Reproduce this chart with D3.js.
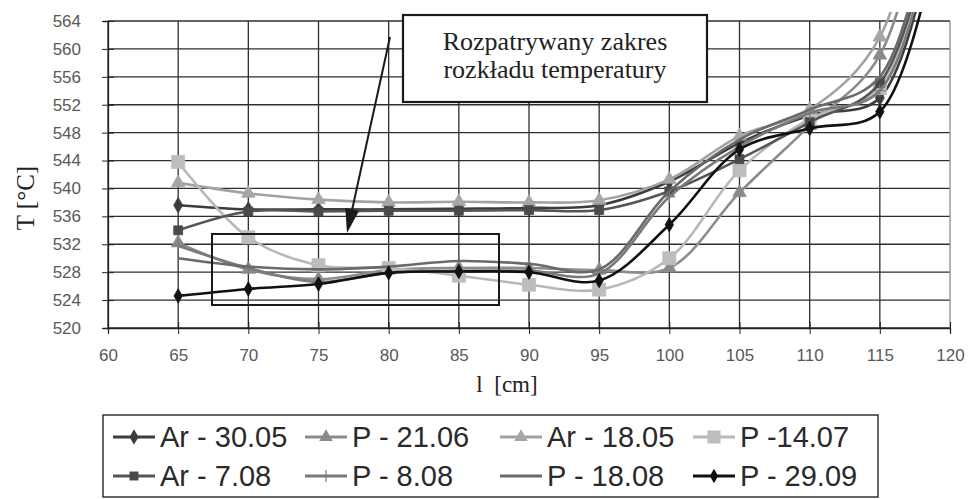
<!DOCTYPE html>
<html>
<head>
<meta charset="utf-8">
<script src="https://cdn.jsdelivr.net/npm/d3@7/dist/d3.min.js"></script>
<style>
  html, body { margin: 0; padding: 0; background: #ffffff; }
  svg { display: block; }
</style>
</head>
<body>
<svg id="chart" width="971" height="499"></svg>
<script>
// Measurement positions along the pipe [cm]
const lengths = [65, 70, 75, 80, 85, 90, 95, 100, 105, 110, 115, 120];

// Temperature readings [°C] for each measurement series
const ar3005 = [537.6, 537.0, 537.0, 537.0, 537.1, 537.2, 537.6, 541.0, 546.5, 550.5, 553.0, 590];
const p2106  = [532.2, 528.4, 527.0, 528.3, 528.6, 528.6, 528.3, 528.6, 539.4, 549.0, 559.1, 600];
const ar1805 = [540.8, 539.3, 538.4, 538.0, 538.1, 538.0, 538.3, 541.3, 547.5, 551.3, 561.7, 605];
const p1407  = [543.8, 533.0, 529.0, 528.6, 527.5, 526.2, 525.5, 530.0, 542.6, 550.0, 554.4, 590];
const ar0708 = [534.0, 536.7, 536.7, 536.8, 536.8, 536.9, 536.9, 539.6, 544.2, 549.5, 555.1, 590];
const p0808  = [531.8, 528.6, 526.6, 527.9, 528.2, 528.2, 527.8, 538.8, 546.0, 550.8, 554.0, 590];
const p1808  = [530.0, 528.8, 528.4, 528.8, 529.6, 529.2, 528.4, 539.6, 547.0, 551.3, 556.0, 595];
const p2909  = [524.6, 525.6, 526.3, 527.9, 528.1, 528.0, 526.8, 534.8, 545.6, 548.6, 551.0, 585];

const seriesNames = ["Ar - 30.05", "P - 21.06", "Ar - 18.05", "P -14.07",
                     "Ar - 7.08", "P - 8.08", "P - 18.08", "P - 29.09"];

// Axis ticks
const xTicks = [60, 65, 70, 75, 80, 85, 90, 95, 100, 105, 110, 115, 120];
const yTicks = [520, 524, 528, 532, 536, 540, 544, 548, 552, 556, 560, 564];

// Annotation text
const noteLines = ["Rozpatrywany zakres", "rozkładu temperatury"];

// Series styling (grey-scale print)
const styles = [
  { data: ar3005, line: "#3c3c3c", mark: "diamond",  fill: "#3c3c3c", size: 70 },
  { data: p2106,  line: "#8c8c8c", mark: "triangle", fill: "#8a8a8a", size: 80 },
  { data: ar1805, line: "#a2a2a2", mark: "triangle", fill: "#a6a6a6", size: 80 },
  { data: p1407,  line: "#b8b8b8", mark: "square",   fill: "#bdbdbd", size: 170 },
  { data: ar0708, line: "#555555", mark: "square",   fill: "#4a4a4a", size: 80 },
  { data: p0808,  line: "#7a7a7a", mark: "plus",     fill: "#7a7a7a", size: 80 },
  { data: p1808,  line: "#6a6a6a", mark: "none",     fill: "#6a6a6a", size: 0 },
  { data: p2909,  line: "#111111", mark: "diamond",  fill: "#111111", size: 60 }
];

const svg = d3.select("#chart");
const plot = { left: 108, right: 950, top: 21, bottom: 328 };

const x = d3.scaleLinear().domain([60, 120]).range([plot.left, plot.right]);
const y = d3.scaleLinear().domain([520, 564]).range([plot.bottom, plot.top]);

// Grid lines
const grid = svg.append("g").attr("stroke", "#2e2e2e").attr("stroke-width", 1.3);
yTicks.forEach(t => {
  grid.append("line").attr("x1", plot.left).attr("x2", plot.right)
    .attr("y1", y(t)).attr("y2", y(t));
});
xTicks.forEach(t => {
  grid.append("line").attr("x1", x(t)).attr("x2", x(t))
    .attr("y1", plot.top).attr("y2", plot.bottom)
    .attr("stroke", t === 120 ? "#8a8a8a" : null);
});

// Axes with ticks crossing the axis line
const yAxis = d3.axisLeft(y).tickValues(yTicks).tickSize(5).tickPadding(22);
const gy = svg.append("g").attr("transform", `translate(${plot.left},0)`).call(yAxis);
gy.select(".domain").attr("stroke", "#222").attr("stroke-width", 1.3);
gy.selectAll(".tick line").attr("x2", -6).attr("x1", 6).attr("stroke", "#222");
gy.selectAll(".tick text").attr("fill", "#595959").attr("font-family", "Liberation Sans, Arial, sans-serif")
  .attr("font-size", 17);

const xAxis = d3.axisBottom(x).tickValues(xTicks).tickSize(5).tickPadding(16);
const gx = svg.append("g").attr("transform", `translate(0,${plot.bottom})`).call(xAxis);
gx.select(".domain").attr("stroke", "#222").attr("stroke-width", 1.3);
gx.selectAll(".tick line").attr("y1", -6).attr("y2", 6).attr("stroke", "#222");
gx.selectAll(".tick text").attr("fill", "#595959").attr("font-family", "Liberation Sans, Arial, sans-serif")
  .attr("font-size", 17);

// Axis titles
svg.append("text")
  .attr("transform", `translate(34,198) rotate(-90)`)
  .attr("text-anchor", "middle")
  .attr("font-family", "Liberation Serif, Times New Roman, serif")
  .attr("font-size", 25).attr("fill", "#222")
  .text("T [°C]");
svg.append("text")
  .attr("x", 507).attr("y", 392)
  .attr("text-anchor", "middle")
  .attr("font-family", "Liberation Serif, Times New Roman, serif")
  .attr("font-size", 23).attr("fill", "#222")
  .attr("xml:space", "preserve")
  .text("l  [cm]");

// Clip for curves leaving the top of the plot
svg.append("defs").append("clipPath").attr("id", "plotClip")
  .append("rect").attr("x", plot.left).attr("y", 12)
  .attr("width", plot.right - plot.left).attr("height", plot.bottom - 12);

const markerPath = (kind, size) => {
  if (kind === "diamond") return d3.symbol(d3.symbolDiamond, size)();
  if (kind === "triangle") return d3.symbol(d3.symbolTriangle, size)();
  if (kind === "square") return d3.symbol(d3.symbolSquare, size)();
  if (kind === "plus") return "M-6,0H6M0,-6V6";
  return null;
};

const lineGen = d3.line()
  .x((d, i) => x(lengths[i]))
  .y(d => y(d))
  .curve(d3.curveCatmullRom.alpha(0.5));

const series = svg.append("g").attr("clip-path", "url(#plotClip)");
styles.forEach(s => {
  const g = series.append("g");
  g.append("path").attr("d", lineGen(s.data))
    .attr("fill", "none").attr("stroke", s.line).attr("stroke-width", 2.6)
    .attr("stroke-linejoin", "round");
  if (s.mark !== "none") {
    const p = markerPath(s.mark, s.size);
    s.data.forEach((v, i) => {
      if (v > 564) return;
      const m = g.append("path").attr("d", p)
        .attr("transform", `translate(${x(lengths[i])},${y(v)})`);
      if (s.mark === "plus") m.attr("fill", "none").attr("stroke", s.fill).attr("stroke-width", 1.2);
      else m.attr("fill", s.fill).attr("stroke", s.fill).attr("stroke-width", 0.8);
    });
  }
});

// Highlighted range frame and pointer arrow
svg.append("rect").attr("x", 212).attr("y", 234).attr("width", 287).attr("height", 71)
  .attr("fill", "none").attr("stroke", "#1a1a1a").attr("stroke-width", 2);

const arrowFrom = [390, 37], arrowTo = [347, 233];
const ang = Math.atan2(arrowTo[1] - arrowFrom[1], arrowTo[0] - arrowFrom[0]);
const headLen = 24, headW = 7;
const bx = arrowTo[0] - headLen * Math.cos(ang), by = arrowTo[1] - headLen * Math.sin(ang);
svg.append("line").attr("x1", arrowFrom[0]).attr("y1", arrowFrom[1])
  .attr("x2", bx).attr("y2", by).attr("stroke", "#1a1a1a").attr("stroke-width", 2);
svg.append("path")
  .attr("d", `M${arrowTo[0]},${arrowTo[1]}L${bx + headW * Math.sin(ang)},${by - headW * Math.cos(ang)}L${bx - headW * Math.sin(ang)},${by + headW * Math.cos(ang)}Z`)
  .attr("fill", "#1a1a1a");

// Annotation box
svg.append("rect").attr("x", 403).attr("y", 15).attr("width", 304).attr("height", 87)
  .attr("fill", "#ffffff").attr("stroke", "#1a1a1a").attr("stroke-width", 2.2);
noteLines.forEach((t, i) => {
  svg.append("text").attr("x", 555).attr("y", 50 + i * 28)
    .attr("text-anchor", "middle")
    .attr("font-family", "Liberation Serif, Times New Roman, serif")
    .attr("font-size", 26).attr("fill", "#222").text(t);
});

// Legend
const legend = svg.append("g");
legend.append("rect").attr("x", 103).attr("y", 415).attr("width", 775).attr("height", 82)
  .attr("fill", "#ffffff").attr("stroke", "#333").attr("stroke-width", 1.5);
const colX = [113, 305, 500, 693];
const rowY = [437, 476];
styles.forEach((s, i) => {
  const cx = colX[i % 4], cy = rowY[Math.floor(i / 4)];
  legend.append("line").attr("x1", cx).attr("x2", cx + 42).attr("y1", cy).attr("y2", cy)
    .attr("stroke", s.line).attr("stroke-width", 3);
  if (s.mark !== "none") {
    const m = legend.append("path").attr("d", markerPath(s.mark, s.size))
      .attr("transform", `translate(${cx + 21},${cy})`);
    if (s.mark === "plus") m.attr("fill", "none").attr("stroke", s.fill).attr("stroke-width", 1.2);
    else m.attr("fill", s.fill);
  }
  legend.append("text").attr("x", cx + 47).attr("y", cy)
    .attr("dy", "0.36em")
    .attr("font-family", "Liberation Sans, Arial, sans-serif")
    .attr("font-size", 29).attr("fill", "#2a2a2a")
    .text(seriesNames[i]);
});
</script>
</body>
</html>
